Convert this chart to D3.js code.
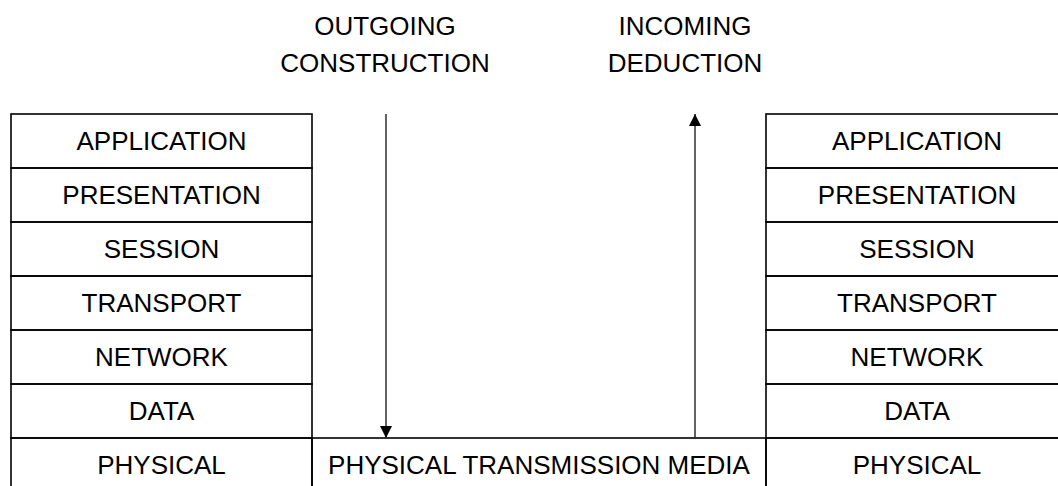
<!DOCTYPE html>
<html>
<head>
<meta charset="utf-8">
<script src="https://cdn.jsdelivr.net/npm/d3@7"></script>
<style>
  body { margin: 0; background: #fff; }
  svg { display: block; }
  text { font-family: "Liberation Sans", Arial, sans-serif; font-size: 26px; fill: #000; }
  .box { fill: none; stroke: #000; stroke-width: 1.6; }
</style>
</head>
<body>
<script>
var layers = ["APPLICATION", "PRESENTATION", "SESSION", "TRANSPORT", "NETWORK", "DATA", "PHYSICAL"];
var stacks = ["left", "right"];
var mediaLabel = ["PHYSICAL TRANSMISSION MEDIA"];
var flows = [
  {name: "outgoing", lines: ["OUTGOING", "CONSTRUCTION"], dir: "down"},
  {name: "incoming", lines: ["INCOMING", "DEDUCTION"], dir: "up"}
];

var WIDTH = 1058;
var HEIGHT = 486;

var svg = d3.select("body").append("svg")
  .attr("width", WIDTH)
  .attr("height", HEIGHT);

// rows of the stacks
var yScale = d3.scaleBand()
  .domain(layers)
  .range([114, 114 + 54 * layers.length]);

// columns: left stack, middle media, right stack
var colX = d3.scaleOrdinal()
  .domain(["left", "middle", "right"])
  .range([[11, 312], [312, 766], [766, 1068]]);

// arrows and their titles
var arrowX = d3.scaleOrdinal().domain(["outgoing", "incoming"]).range([386, 695]);
var titleX = d3.scaleOrdinal().domain(["outgoing", "incoming"]).range([385, 685]);

svg.append("defs").append("marker")
  .attr("id", "head")
  .attr("viewBox", "0 0 10 10")
  .attr("refX", 10).attr("refY", 5)
  .attr("markerWidth", 18).attr("markerHeight", 12)
  .attr("markerUnits", "userSpaceOnUse")
  .attr("orient", "auto")
  .append("path")
  .attr("d", "M0,0L10,5L0,10Z")
  .attr("fill", "#000");

stacks.forEach(function (s) {
  var x = colX(s);
  var g = svg.append("g");
  g.selectAll("rect")
    .data(layers)
    .enter()
    .append("rect")
    .attr("class", "box")
    .attr("x", x[0])
    .attr("y", function (d) { return yScale(d); })
    .attr("width", x[1] - x[0])
    .attr("height", yScale.bandwidth());
  g.selectAll("text")
    .data(layers)
    .enter()
    .append("text")
    .attr("x", (x[0] + x[1]) / 2)
    .attr("y", function (d) { return yScale(d) + yScale.bandwidth() / 2; })
    .attr("dy", "0.35em")
    .attr("text-anchor", "middle")
    .text(function (d) { return d; });
});

// middle media box on the physical row
var mid = colX("middle");
var phys = layers[layers.length - 1];
svg.append("rect")
  .attr("class", "box")
  .attr("x", mid[0])
  .attr("y", yScale(phys))
  .attr("width", mid[1] - mid[0])
  .attr("height", yScale.bandwidth());
svg.append("text")
  .attr("x", (mid[0] + mid[1]) / 2)
  .attr("y", yScale(phys) + yScale.bandwidth() / 2)
  .attr("dy", "0.35em")
  .attr("text-anchor", "middle")
  .text(mediaLabel[0]);

var yTop = yScale(layers[0]);
var yBottom = yScale(phys);

flows.forEach(function (f) {
  var x = arrowX(f.name);
  var y1 = f.dir === "down" ? yTop : yBottom;
  var y2 = f.dir === "down" ? yBottom : yTop;
  svg.append("line")
    .attr("x1", x).attr("x2", x)
    .attr("y1", y1).attr("y2", y2)
    .attr("stroke", "#222")
    .attr("stroke-width", 1.4)
    .attr("marker-end", "url(#head)");
  svg.append("g").selectAll("text")
    .data(f.lines)
    .enter()
    .append("text")
    .attr("x", titleX(f.name))
    .attr("y", function (d, i) { return 35 + i * 37; })
    .attr("text-anchor", "middle")
    .text(function (d) { return d; });
});
</script>
</body>
</html>
